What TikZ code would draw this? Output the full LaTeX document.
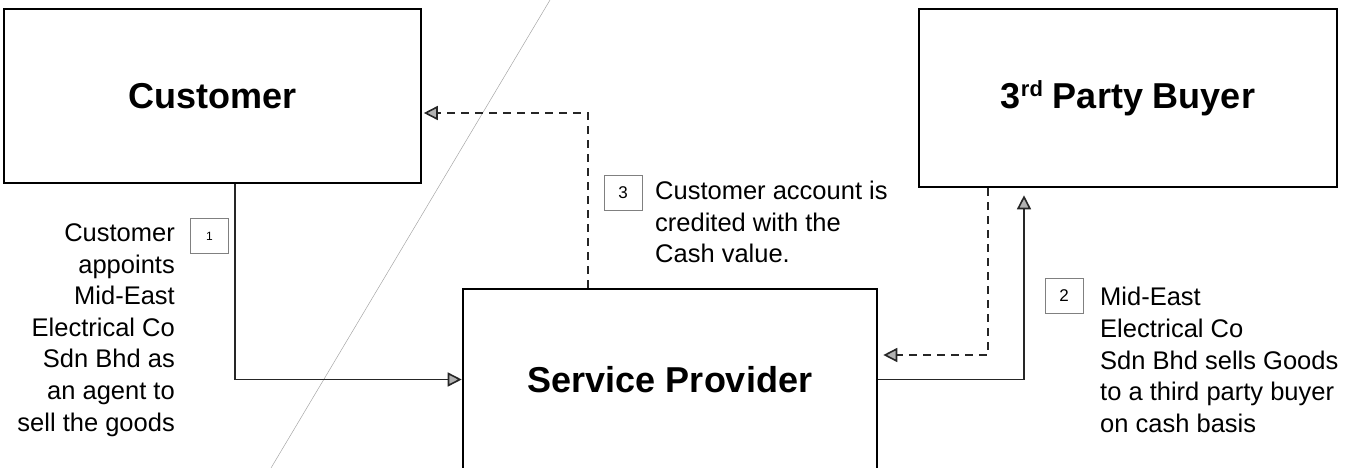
\documentclass[tikz,border=0pt]{standalone}
\usepackage{fontspec}
\setmainfont{Liberation Sans}
\usetikzlibrary{arrows.meta}

\begin{document}
\begin{tikzpicture}[x=1pt, y=-1pt,
    party/.style={draw, line width=2.6pt, inner sep=0pt, font=\fontsize{36}{42}\selectfont\bfseries},
    badge/.style={draw=gray, line width=0.7pt, minimum width=38pt, minimum height=35pt, inner sep=0pt},
    note/.style={inner sep=0pt, font=\fontsize{25.5}{31.6}\selectfont},
    flow/.style={draw=black!85, line width=1.6pt, -{Triangle[length=14pt, width=14pt, fill=gray!60]}},
    ret/.style={flow, dash pattern=on 8pt off 6pt}]

    \useasboundingbox (0,0) rectangle (1364,468);

    % thin diagonal behind everything
    \coordinate (d1) at (550,0);
    \coordinate (d2) at (271,468);
    \draw[gray!70, line width=0.5pt] (d1) -- (d2);

    \node[party, minimum width=417pt, minimum height=174pt] (cust) at (212.5,96) {Customer};
    \node[party, minimum width=418pt, minimum height=178pt] (buyer) at (1128,98)
        {3{\fontsize{22}{22}\selectfont\raisebox{12pt}{rd}} Party Buyer};
    \node[party, minimum width=414pt, minimum height=181pt] (prov) at (670,379.5) {Service Provider};

    % numbered steps
    \node[badge, font=\fontsize{12}{12}\selectfont] (n1) at (209.5,236) {1};
    \node[badge, font=\fontsize{17}{17}\selectfont] (n2) at (1064,295.5) {2};
    \node[badge, font=\fontsize{17}{17}\selectfont] (n3) at (623,193) {3};

    \node[note, align=right, anchor=east] (t1) at (175,330)
        {Customer\\appoints\\Mid-East\\Electrical Co\\Sdn Bhd as\\an agent to\\sell the goods};
    \node[note, align=left, anchor=west] (t2) at (1100,360)
        {Mid-East\\Electrical Co\\Sdn Bhd sells Goods\\to a third party buyer\\on cash basis};
    \node[note, align=left, anchor=west] (t3) at (655,222)
        {Customer account is\\credited with the\\Cash value.};

    \draw[flow] ([xshift=22.5pt]cust.south) |- (prov.west);
    \draw[flow, shorten >=7pt] (prov.east) -| ([xshift=-104pt]buyer.south);
    \draw[ret, shorten >=5pt] ([xshift=-140pt]buyer.south) |- ([yshift=24.5pt]prov.east);
    \draw[ret, shorten >=1.5pt] ([xshift=-82pt]prov.north) |- ([yshift=-17pt]cust.east);
\end{tikzpicture}
\end{document}
